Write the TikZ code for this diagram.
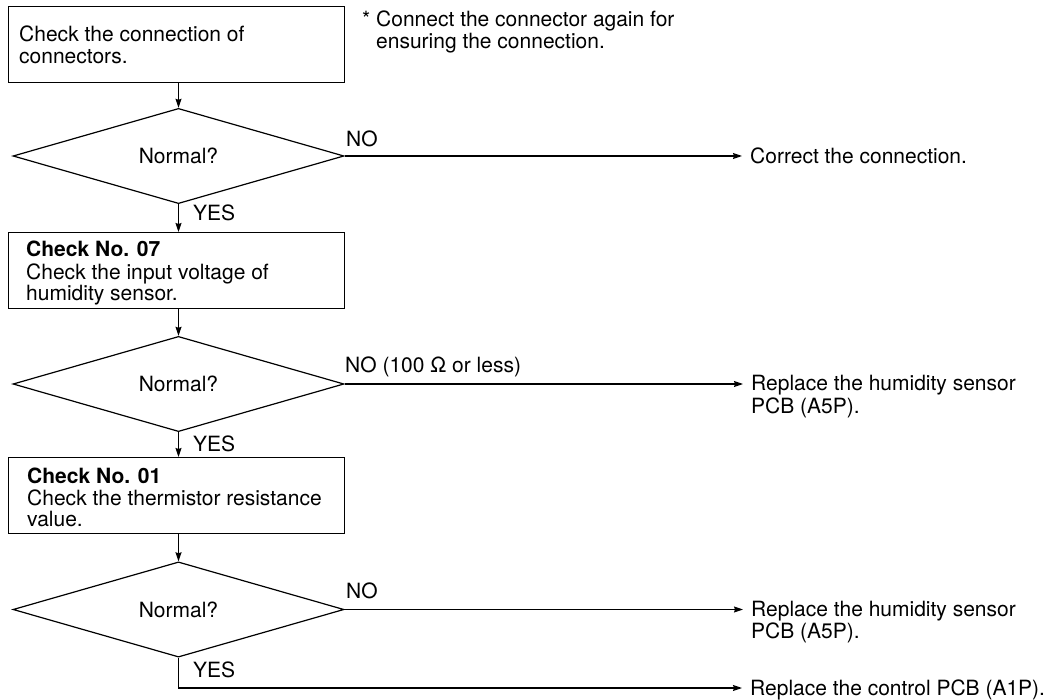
\documentclass[tikz,border=0pt]{standalone}
\usepackage{fontspec}
\setmainfont{TeX Gyre Heros}
\usetikzlibrary{shapes.geometric,arrows.meta}
\newcommand\mlines[1]{\begin{tabular}[t]{@{}l@{}}#1\end{tabular}}
\begin{document}
\begin{tikzpicture}[x=1pt,y=-1pt,
  every node/.style={font=\fontsize{21}{21.5}\selectfont},
  boxnode/.style={draw,line width=1.2pt,rectangle,minimum width=336pt,minimum height=76pt,inner sep=0pt,anchor=north west},
  decision/.style={draw,line width=1.2pt,diamond,minimum width=331pt,minimum height=94pt,inner sep=0pt},
  txt/.style={anchor=base west,inner sep=0pt},
  conn/.style={line width=1.2pt},
  arr/.style={line width=1.2pt,-{Stealth[length=9pt,width=6pt,inset=1pt]}},
  sarr/.style={arr,shorten >=8pt}]
\useasboundingbox (0,0) rectangle (1060,700);

% boxes
\node[boxnode] (b1) at (8,6) {};
\node[boxnode] (b2) at (8,232) {};
\node[boxnode] (b3) at (8,457) {};
\node[txt] (t1) at (19,42) {\mlines{Check the connection of\\connectors.}};
\node[txt] (t2) at (26,257) {\mlines{\textbf{Check No. 07}\\Check the input voltage of\\humidity sensor.}};
\node[txt] (t3) at (27,483) {\mlines{\textbf{Check No. 01}\\Check the thermistor resistance\\value.}};

% note
\node[txt] (note) at (362,27) {\mlines{* Connect the connector again for\\\hphantom{* }ensuring the connection.}};

% decisions
\node[decision] (d1) at (178.5,156) {Normal?};
\node[decision] (d2) at (178.5,384) {Normal?};
\node[decision] (d3) at (178.5,609.5) {Normal?};

% results
\node[txt] (r1) at (750,164) {Correct the connection.};
\node[txt] (r2) at (751,391) {\mlines{Replace the humidity sensor\\PCB (A5P).}};
\node[txt] (r3) at (751,616) {\mlines{Replace the humidity sensor\\PCB (A5P).}};
\node[txt] (r4) at (750,695) {Replace the control PCB (A1P).};
\coordinate (c4) at (742,688);

% vertical flow
\draw[arr] (d1.north |- b1.south) -- (d1.north);
\draw[arr] (d1.south) -- (d1.south |- b2.north);
\draw[arr] (d2.north |- b2.south) -- (d2.north);
\draw[arr] (d2.south) -- (d2.south |- b3.north);
\draw[arr] (d3.north |- b3.south) -- (d3.north);
\draw[arr] (d3.south) |- (c4);

% NO branches
\draw[sarr] (d1.east) -- (d1.east -| r1.west);
\draw[sarr] (d2.east) -- (d2.east -| r2.west);
\draw[sarr] (d3.east) -- (d3.east -| r3.west);

% labels
\node[txt] (n1) at (346,147) {NO};
\node[txt] (n2) at (345,373) {NO (100 Ω or less)};
\node[txt] (n3) at (346,598) {NO};
\node[txt] (y1) at (193,221) {YES};
\node[txt] (y2) at (193,451) {YES};
\node[txt] (y3) at (193,677) {YES};
\end{tikzpicture}
\end{document}
